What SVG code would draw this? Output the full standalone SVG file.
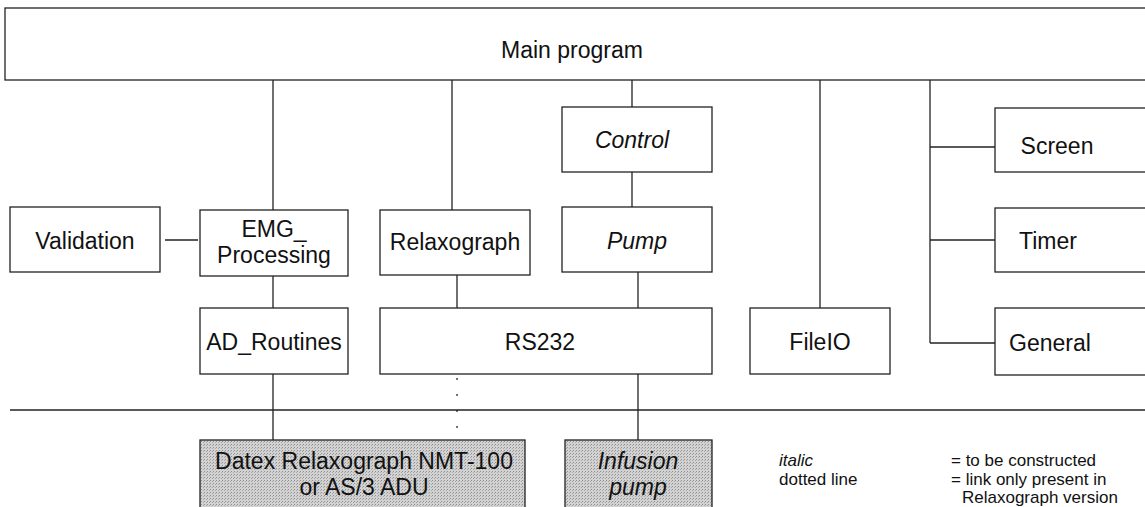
<svg xmlns="http://www.w3.org/2000/svg" width="1145" height="507" viewBox="0 0 1145 507">
  <style>
    .box { fill: #ffffff; stroke: #222222; stroke-width: 1.3; }
    .hw { stroke: #222222; stroke-width: 1.3; fill: url(#grain); }
    .lbl { font-family: "Liberation Sans", Arial, sans-serif; font-size: 23px; fill: #111111; text-anchor: middle; }
    .it { font-style: italic; }
    .leg { font-family: "Liberation Sans", Arial, sans-serif; font-size: 17px; fill: #111111; }
    .ln { stroke: #222222; stroke-width: 1.3; fill: none; }
    .dot { stroke: #444444; stroke-width: 1.5; stroke-dasharray: 2 14; fill: none; }
  </style>
  <defs>
    <!-- halftone grey used for the hardware blocks -->
    <pattern id="grain" width="3" height="3" patternUnits="userSpaceOnUse">
      <rect width="3" height="3" fill="#d2d2d2"/>
      <rect x="0" y="0" width="1" height="1" fill="#909090"/>
      <rect x="2" y="1" width="1" height="1" fill="#a8a8a8"/>
    </pattern>
  </defs>
  <rect width="1145" height="507" fill="#ffffff"/>

  <!-- connectors -->
  <g id="connectors">
    <line class="ln" x1="273" y1="80" x2="273" y2="210"/>
    <line class="ln" x1="452" y1="80" x2="452" y2="210"/>
    <line class="ln" x1="632" y1="80" x2="632" y2="107"/>
    <line class="ln" x1="632" y1="172" x2="632" y2="207"/>
    <line class="ln" x1="820" y1="80" x2="820" y2="308"/>
    <line class="ln" x1="930" y1="80" x2="930" y2="343"/>
    <line class="ln" x1="930" y1="147" x2="995" y2="147"/>
    <line class="ln" x1="930" y1="240" x2="995" y2="240"/>
    <line class="ln" x1="930" y1="343" x2="995" y2="343"/>
    <line class="ln" x1="165" y1="240" x2="198" y2="240"/>
    <line class="ln" x1="273" y1="276" x2="273" y2="308"/>
    <line class="ln" x1="457" y1="275" x2="457" y2="308"/>
    <line class="ln" x1="638" y1="272" x2="638" y2="308"/>
    <line class="ln" x1="273" y1="374" x2="273" y2="440"/>
    <line class="dot" x1="457" y1="378" x2="457" y2="440"/>
    <line class="ln" x1="638" y1="374" x2="638" y2="440"/>
    <!-- software / hardware boundary -->
    <line class="ln" x1="10" y1="410" x2="1145" y2="410"/>
  </g>

  <g id="main-program">
    <rect class="box" x="5" y="8" width="1145" height="72"/>
    <text class="lbl" x="572" y="58">Main program</text>
  </g>
  <g id="control">
    <rect class="box" x="562" y="107" width="150" height="65"/>
    <text class="lbl it" x="632" y="148">Control</text>
  </g>
  <g id="screen">
    <rect class="box" x="995" y="108" width="155" height="64"/>
    <text class="lbl" x="1057" y="154">Screen</text>
  </g>
  <g id="validation">
    <rect class="box" x="10" y="207" width="150" height="65"/>
    <text class="lbl" x="85" y="249">Validation</text>
  </g>
  <g id="emg-processing">
    <rect class="box" x="200" y="210" width="148" height="66"/>
    <text class="lbl" x="274" y="237">EMG_</text>
    <text class="lbl" x="274" y="263">Processing</text>
  </g>
  <g id="relaxograph">
    <rect class="box" x="380" y="210" width="150" height="65"/>
    <text class="lbl" x="455" y="250">Relaxograph</text>
  </g>
  <g id="pump">
    <rect class="box" x="562" y="207" width="150" height="65"/>
    <text class="lbl it" x="637" y="249">Pump</text>
  </g>
  <g id="timer">
    <rect class="box" x="995" y="208" width="155" height="64"/>
    <text class="lbl" x="1048" y="249">Timer</text>
  </g>
  <g id="ad-routines">
    <rect class="box" x="200" y="308" width="148" height="66"/>
    <text class="lbl" x="274" y="350">AD_Routines</text>
  </g>
  <g id="rs232">
    <rect class="box" x="380" y="308" width="332" height="66"/>
    <text class="lbl" x="540" y="350">RS232</text>
  </g>
  <g id="fileio">
    <rect class="box" x="750" y="308" width="140" height="66"/>
    <text class="lbl" x="820" y="350">FileIO</text>
  </g>
  <g id="general">
    <rect class="box" x="995" y="308" width="155" height="67"/>
    <text class="lbl" x="1050" y="351">General</text>
  </g>
  <g id="datex">
    <rect class="hw" x="200" y="440" width="325" height="72"/>
    <text class="lbl" x="364" y="469">Datex Relaxograph NMT-100</text>
    <text class="lbl" x="364" y="495">or AS/3 ADU</text>
  </g>
  <g id="infusion-pump">
    <rect class="hw" x="565" y="440" width="147" height="72"/>
    <text class="lbl it" x="638" y="469">Infusion</text>
    <text class="lbl it" x="638" y="495">pump</text>
  </g>

  <g id="legend">
    <text class="leg it" x="779" y="466">italic</text>
    <text class="leg" x="779" y="485">dotted line</text>
    <text class="leg" x="951" y="466">= to be constructed</text>
    <text class="leg" x="951" y="485">= link only present in</text>
    <text class="leg" x="962" y="503">Relaxograph version</text>
  </g>
</svg>
